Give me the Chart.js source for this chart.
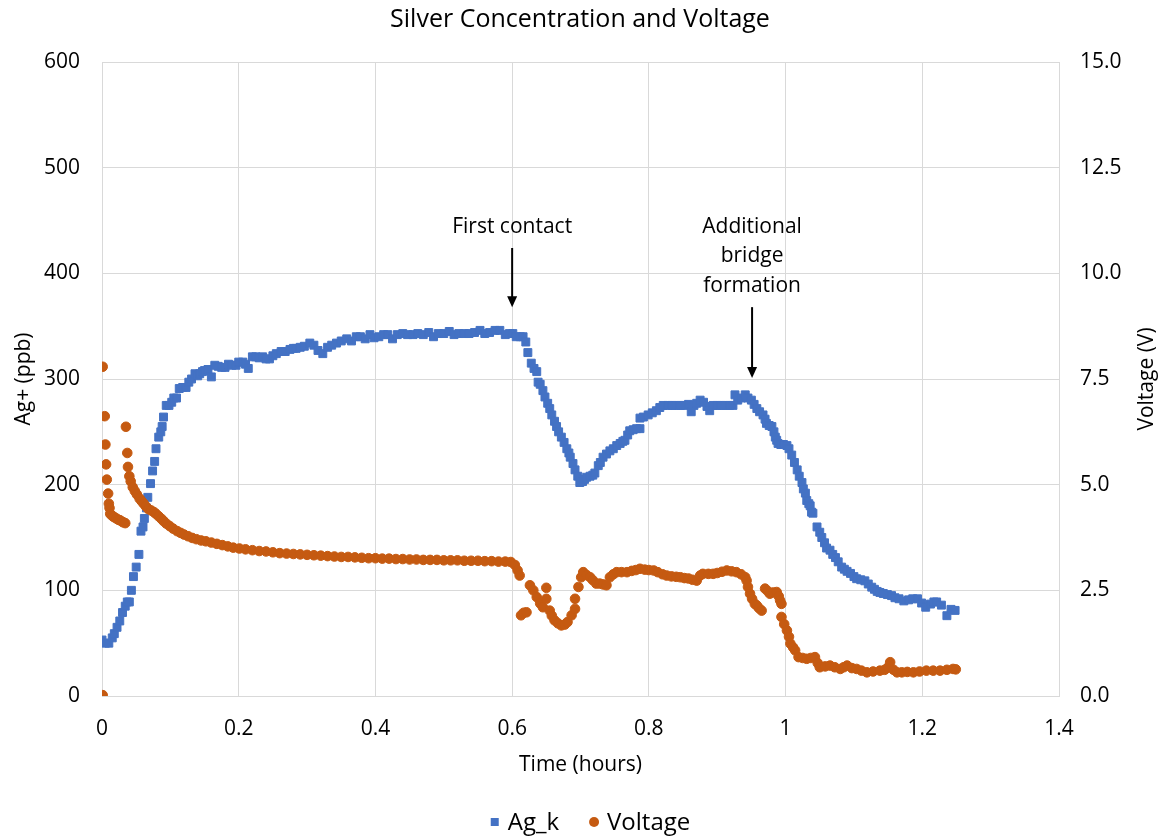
<!DOCTYPE html>
<html>
<head>
<meta charset="utf-8">
<title>Silver Concentration and Voltage</title>
<script src="https://cdn.jsdelivr.net/npm/chart.js@4.4.1/dist/chart.umd.min.js"></script>
<style>
  html, body { margin: 0; padding: 0; background: #fff; }
  canvas { display: block; }
</style>
</head>
<body>
<canvas id="chart" width="1160" height="836"></canvas>
<script>
// Ag_k readings: time (hours) and concentration (ppb)
const agTime = [
  0.000, 0.005, 0.010, 0.015, 0.018, 0.022, 0.026, 0.030, 0.034, 0.037,
  0.040, 0.043, 0.046, 0.050, 0.054, 0.057, 0.060, 0.062, 0.065, 0.067,
  0.071, 0.074, 0.077, 0.079, 0.083, 0.086, 0.088, 0.090, 0.094, 0.098,
  0.102, 0.105, 0.109, 0.113, 0.118, 0.123, 0.127, 0.131, 0.136, 0.140,
  0.143, 0.147, 0.150, 0.155, 0.160, 0.165, 0.170, 0.175, 0.180, 0.185,
  0.190, 0.196, 0.200, 0.206, 0.210, 0.214, 0.220, 0.225, 0.230, 0.235,
  0.240, 0.245, 0.250, 0.255, 0.262, 0.268, 0.275, 0.280, 0.284, 0.290,
  0.296, 0.304, 0.310, 0.316, 0.323, 0.330, 0.336, 0.343, 0.350, 0.358,
  0.365, 0.372, 0.378, 0.385, 0.392, 0.398, 0.405, 0.412, 0.418, 0.425,
  0.432, 0.440, 0.447, 0.455, 0.462, 0.470, 0.478, 0.485, 0.492, 0.500,
  0.508, 0.515, 0.522, 0.530, 0.537, 0.545, 0.553, 0.560, 0.567, 0.575,
  0.582, 0.590, 0.596, 0.601, 0.606, 0.612, 0.616, 0.620, 0.623, 0.628,
  0.632, 0.636, 0.638, 0.641, 0.645, 0.648, 0.652, 0.655, 0.658, 0.662,
  0.665, 0.668, 0.672, 0.676, 0.680, 0.683, 0.685, 0.689, 0.692, 0.696,
  0.699, 0.703, 0.706, 0.709, 0.714, 0.718, 0.721, 0.726, 0.729, 0.733,
  0.738, 0.743, 0.748, 0.753, 0.758, 0.762, 0.765, 0.769, 0.772, 0.777,
  0.782, 0.787, 0.787, 0.792, 0.799, 0.805, 0.811, 0.816, 0.821, 0.828,
  0.834, 0.840, 0.846, 0.852, 0.858, 0.862, 0.866, 0.870, 0.875, 0.880,
  0.885, 0.889, 0.894, 0.900, 0.906, 0.912, 0.918, 0.923, 0.926, 0.930,
  0.935, 0.941, 0.945, 0.950, 0.954, 0.958, 0.962, 0.967, 0.970, 0.972,
  0.976, 0.980, 0.983, 0.985, 0.987, 0.989, 0.993, 0.997, 1.002, 1.005,
  1.009, 1.013, 1.017, 1.020, 1.024, 1.026, 1.029, 1.031, 1.034, 1.036,
  1.038, 1.040, 1.046, 1.050, 1.053, 1.057, 1.060, 1.065, 1.069, 1.073,
  1.077, 1.082, 1.086, 1.090, 1.095, 1.100, 1.104, 1.110, 1.116, 1.121,
  1.126, 1.130, 1.134, 1.138, 1.143, 1.149, 1.155, 1.160, 1.166, 1.173,
  1.180, 1.186, 1.193, 1.199, 1.205, 1.212, 1.217, 1.221, 1.228, 1.236,
  1.242, 1.248
];
const agPpb = [
  53, 50, 50, 55, 59, 65, 71, 79, 85, 89,
  89, 100, 113, 122, 134, 156, 160, 168, 178, 188,
  201, 213, 222, 234, 245, 250, 255, 264, 275, 275,
  278, 282, 282, 291, 292, 292, 297, 300, 305, 303,
  305, 307, 308, 309, 302, 313, 312, 311, 311, 314,
  313, 313, 316, 316, 314, 310, 321, 321, 320, 321,
  319, 319, 322, 324, 326, 326, 328, 329, 329, 330,
  331, 334, 332, 327, 324, 330, 332, 334, 336, 338,
  336, 340, 340, 338, 342, 339, 340, 342, 342, 338,
  342, 343, 342, 342, 343, 342, 344, 340, 343, 343,
  345, 342, 343, 343, 343, 344, 346, 343, 344, 346,
  346, 342, 343, 343, 340, 340, 340, 335, 325, 315,
  310, 307, 297, 295, 289, 283, 277, 272, 266, 260,
  255, 250, 245, 240, 234, 230, 226, 220, 214, 208,
  202, 203, 205, 207, 208, 209, 211, 218, 221, 226,
  229, 232, 234, 237, 239, 241, 242, 247, 251, 252,
  253, 253, 263, 264, 266, 268, 270, 273, 275, 275,
  275, 275, 275, 275, 276, 269, 275, 277, 280, 278,
  274, 270, 275, 275, 275, 275, 275, 275, 285, 280,
  282, 285, 282, 280, 276, 272, 269, 266, 262, 258,
  256, 255, 250, 245, 242, 239, 238, 238, 237, 234,
  228, 221, 214, 208, 202, 196, 192, 185, 182, 180,
  174, 173, 160, 155, 150, 145, 140, 138, 134, 131,
  127, 122, 120, 118, 116, 113, 111, 110, 109, 106,
  103, 101, 99, 98, 97, 96, 95, 93, 92, 90,
  91, 92, 92, 88, 84, 87, 89, 89, 86, 76,
  82, 81
];

// Voltage readings: time (hours) and volts
const voltTime = [
  0.001, 0.001, 0.004, 0.005, 0.006, 0.007, 0.009, 0.010, 0.011, 0.012,
  0.014, 0.016, 0.018, 0.021, 0.024, 0.026, 0.029, 0.031, 0.034, 0.035,
  0.037, 0.038, 0.040, 0.042, 0.045, 0.048, 0.051, 0.055, 0.058, 0.061,
  0.064, 0.068, 0.072, 0.076, 0.079, 0.083, 0.087, 0.090, 0.094, 0.099,
  0.104, 0.110, 0.115, 0.120, 0.126, 0.132, 0.138, 0.145, 0.152, 0.160,
  0.168, 0.176, 0.184, 0.192, 0.201, 0.210, 0.220, 0.230, 0.240, 0.250,
  0.260, 0.270, 0.280, 0.290, 0.300, 0.310, 0.320, 0.330, 0.340, 0.350,
  0.360, 0.370, 0.380, 0.390, 0.400, 0.410, 0.420, 0.430, 0.440, 0.450,
  0.460, 0.470, 0.480, 0.490, 0.500, 0.510, 0.520, 0.530, 0.540, 0.550,
  0.560, 0.570, 0.580, 0.590, 0.598, 0.604, 0.608, 0.611, 0.613, 0.617,
  0.621, 0.626, 0.631, 0.636, 0.641, 0.645, 0.650, 0.650, 0.655, 0.658,
  0.662, 0.667, 0.672, 0.677, 0.681, 0.687, 0.692, 0.692, 0.697, 0.701,
  0.704, 0.709, 0.714, 0.718, 0.723, 0.728, 0.733, 0.738, 0.743, 0.748,
  0.753, 0.760, 0.768, 0.775, 0.781, 0.787, 0.794, 0.800, 0.807, 0.813,
  0.820, 0.826, 0.833, 0.840, 0.846, 0.852, 0.858, 0.864, 0.870, 0.875,
  0.879, 0.887, 0.894, 0.900, 0.907, 0.914, 0.921, 0.928, 0.935, 0.941,
  0.943, 0.945, 0.948, 0.951, 0.955, 0.958, 0.961, 0.965, 0.970, 0.974,
  0.977, 0.982, 0.987, 0.990, 0.992, 0.994, 0.994, 0.998, 1.002, 1.005,
  1.007, 1.011, 1.014, 1.019, 1.025, 1.031, 1.037, 1.043, 1.047, 1.050,
  1.058, 1.065, 1.072, 1.080, 1.085, 1.090, 1.097, 1.104, 1.111, 1.119,
  1.128, 1.138, 1.145, 1.150, 1.153, 1.158, 1.163, 1.170, 1.178, 1.187,
  1.196, 1.206, 1.216, 1.226, 1.236, 1.245, 1.249
];
const voltV = [
  7.79, 0.02, 6.62, 5.95, 5.48, 5.12, 4.79, 4.55, 4.45, 4.31,
  4.28, 4.25, 4.23, 4.20, 4.17, 4.16, 4.13, 4.11, 4.09, 6.37,
  5.75, 5.42, 5.20, 5.08, 4.94, 4.85, 4.77, 4.67, 4.61, 4.55,
  4.49, 4.42, 4.39, 4.35, 4.31, 4.25, 4.19, 4.14, 4.08, 4.02,
  3.96, 3.90, 3.86, 3.82, 3.78, 3.74, 3.71, 3.68, 3.66, 3.63,
  3.60, 3.57, 3.54, 3.51, 3.49, 3.47, 3.45, 3.43, 3.42, 3.40,
  3.38, 3.37, 3.36, 3.35, 3.34, 3.33, 3.32, 3.31, 3.30, 3.29,
  3.29, 3.28, 3.27, 3.26, 3.26, 3.25, 3.25, 3.24, 3.24, 3.23,
  3.23, 3.22, 3.22, 3.22, 3.21, 3.21, 3.21, 3.20, 3.20, 3.20,
  3.19, 3.19, 3.18, 3.18, 3.17, 3.10, 2.97, 2.85, 1.91, 1.97,
  1.98, 2.62, 2.50, 2.34, 2.19, 2.10, 2.56, 2.30, 2.02, 1.90,
  1.79, 1.72, 1.67, 1.69, 1.75, 1.91, 2.06, 2.30, 2.58, 2.81,
  2.93, 2.86, 2.81, 2.74, 2.66, 2.66, 2.64, 2.62, 2.81, 2.88,
  2.93, 2.93, 2.93, 2.96, 2.98, 3.01, 2.99, 2.98, 2.97, 2.93,
  2.88, 2.85, 2.83, 2.82, 2.81, 2.79, 2.78, 2.75, 2.73, 2.85,
  2.89, 2.89, 2.89, 2.91, 2.94, 2.97, 2.95, 2.93, 2.88, 2.81,
  2.73, 2.58, 2.42, 2.30, 2.18, 2.14, 2.08, 2.02, 2.54, 2.48,
  2.42, 2.45, 2.46, 2.36, 2.26, 2.18, 1.87, 1.70, 1.55, 1.40,
  1.24, 1.15, 1.08, 0.92, 0.90, 0.88, 0.90, 0.92, 0.78, 0.68,
  0.70, 0.72, 0.68, 0.64, 0.68, 0.72, 0.66, 0.64, 0.60, 0.56,
  0.58, 0.60, 0.62, 0.68, 0.80, 0.62, 0.56, 0.56, 0.57, 0.56,
  0.58, 0.60, 0.60, 0.60, 0.62, 0.64, 0.63
];

// Axis tick settings
const timeTicks = { min: 0, max: 1.4, step: 0.2 };
const ppbTicks = { min: 0, max: 600, step: 100 };
const voltTicks = { min: 0, max: 15, step: 2.5 };

// Callouts, placed in data units (x = hours, y = ppb)
const callouts = [
  { lines: ["First contact"], x: 0.6, textY: 444, arrowFrom: 424, arrowTo: 368 },
  { lines: ["Additional", "bridge", "formation"], x: 0.951, textY: 444, arrowFrom: 368, arrowTo: 301 },
];

const BLUE = "#4472C4";
const ORANGE = "#C55A11";
const GRID = "#D9D9D9";
const TEXT = "#000000";
const FONT = "'Open Sans', sans-serif";

Chart.defaults.font.family = FONT;
Chart.defaults.color = TEXT;

// Plot area edges in the reference picture
const area = { left: 102, right: 1059, top: 62, bottom: 696 };

const calloutPlugin = {
  id: "callouts",
  afterDatasetsDraw(chart) {
    const { ctx, scales } = chart;
    ctx.save();
    ctx.fillStyle = TEXT;
    ctx.strokeStyle = TEXT;
    ctx.font = "21px " + FONT;
    ctx.textAlign = "center";
    ctx.textBaseline = "middle";
    callouts.forEach((c) => {
      const px = scales.x.getPixelForValue(c.x);
      let ty = scales.y.getPixelForValue(c.textY);
      c.lines.forEach((line) => {
        ctx.fillText(line, px, ty);
        ty += 29.5;
      });
      const y0 = scales.y.getPixelForValue(c.arrowFrom);
      const y1 = scales.y.getPixelForValue(c.arrowTo);
      ctx.lineWidth = 2;
      ctx.beginPath();
      ctx.moveTo(px, y0);
      ctx.lineTo(px, y1 - 10);
      ctx.stroke();
      ctx.beginPath();
      ctx.moveTo(px - 5, y1 - 11);
      ctx.lineTo(px + 5, y1 - 11);
      ctx.lineTo(px, y1);
      ctx.closePath();
      ctx.fill();
    });
    ctx.restore();
  },
};

// Right axis title reads bottom-to-top in the reference, so draw it here
const rightTitlePlugin = {
  id: "rightTitle",
  afterDraw(chart) {
    const { ctx, chartArea } = chart;
    ctx.save();
    ctx.font = "21px " + FONT;
    ctx.fillStyle = TEXT;
    ctx.textAlign = "center";
    ctx.textBaseline = "middle";
    ctx.translate(1147, (chartArea.top + chartArea.bottom) / 2);
    ctx.rotate(-Math.PI / 2);
    ctx.fillText("Voltage (V)", 0, 0);
    ctx.restore();
  },
};

// Legend below the axis title, like the spreadsheet's
const legendPlugin = {
  id: "bottomLegend",
  afterDraw(chart) {
    const { ctx } = chart;
    const y = 822;
    ctx.save();
    ctx.font = "24px " + FONT;
    ctx.textBaseline = "middle";
    ctx.textAlign = "left";
    const items = chart.data.datasets.map((ds) => ({
      label: ds.label,
      color: ds.backgroundColor,
      style: ds.pointStyle,
      w: ctx.measureText(ds.label).width,
    }));
    const marker = 10, gap = 8, spacing = 30;
    const total = items.reduce((s, it) => s + marker + gap + it.w, 0) + spacing * (items.length - 1);
    let x = 590 - total / 2;
    items.forEach((it) => {
      ctx.fillStyle = it.color;
      if (it.style === "rect") {
        ctx.fillRect(x + 1, y - 4, 8, 8);
      } else {
        ctx.beginPath();
        ctx.arc(x + marker / 2, y, 5, 0, Math.PI * 2);
        ctx.fill();
      }
      x += marker + gap;
      ctx.fillStyle = TEXT;
      ctx.fillText(it.label, x, y + 1);
      x += it.w + spacing;
    });
    ctx.restore();
  },
};

const toPoints = (xs, ys) => xs.map((t, i) => ({ x: t, y: ys[i] }));

new Chart(document.getElementById("chart"), {
  type: "scatter",
  data: {
    datasets: [
      {
        label: "Ag_k",
        data: toPoints(agTime, agPpb),
        yAxisID: "y",
        pointStyle: "rect",
        pointRadius: 5.6,
        pointBorderWidth: 1,
        backgroundColor: BLUE,
        borderColor: BLUE,
        order: 1,
      },
      {
        label: "Voltage",
        data: toPoints(voltTime, voltV),
        yAxisID: "y1",
        pointStyle: "circle",
        pointRadius: 4.8,
        pointBorderWidth: 1,
        backgroundColor: ORANGE,
        borderColor: ORANGE,
        order: 0,
      },
    ],
  },
  options: {
    responsive: false,
    devicePixelRatio: 1,
    animation: false,
    layout: { padding: 0 },
    plugins: {
      legend: { display: false },
      tooltip: { enabled: false },
      title: {
        display: true,
        text: "Silver Concentration and Voltage",
        color: TEXT,
        font: { size: 25, weight: "normal" },
        padding: { top: 5, bottom: 27 },
      },
    },
    scales: {
      x: {
        type: "linear",
        min: timeTicks.min,
        max: timeTicks.max,
        afterFit: (s) => { s.height = 836 - area.bottom; },
        afterBuildTicks: (s) => {
          s.ticks = [];
          for (let v = 0; v <= 7; v++) s.ticks.push({ value: +(timeTicks.step * v).toFixed(1) });
        },
        ticks: {
          font: { size: 21 },
          color: TEXT,
          padding: 20,
          maxRotation: 0,
          callback: (v) => String(+Number(v).toFixed(1)),
        },
        grid: { color: GRID, lineWidth: 1, drawTicks: false },
        border: { color: GRID },
        title: {
          display: true,
          text: "Time (hours)",
          color: TEXT,
          font: { size: 21 },
          padding: { top: 0, bottom: 58 },
        },
      },
      y: {
        position: "left",
        min: ppbTicks.min,
        max: ppbTicks.max,
        afterFit: (s) => { s.width = area.left; },
        ticks: { stepSize: ppbTicks.step, font: { size: 21 }, color: TEXT, padding: 22 },
        grid: { color: GRID, lineWidth: 1, drawTicks: false },
        border: { color: GRID },
        title: {
          display: true,
          text: "Ag+ (ppb)",
          color: TEXT,
          font: { size: 21 },
          padding: { top: 11, bottom: 0 },
        },
      },
      y1: {
        position: "right",
        min: voltTicks.min,
        max: voltTicks.max,
        afterFit: (s) => { s.width = 1160 - area.right; },
        ticks: {
          stepSize: voltTicks.step,
          font: { size: 21 },
          color: TEXT,
          padding: 21,
          callback: (v) => Number(v).toFixed(1),
        },
        grid: { drawOnChartArea: false, drawTicks: false },
        border: { color: GRID },
        title: { display: false, text: "Voltage (V)" },
      },
    },
  },
  plugins: [calloutPlugin, rightTitlePlugin, legendPlugin],
});
</script>
</body>
</html>
